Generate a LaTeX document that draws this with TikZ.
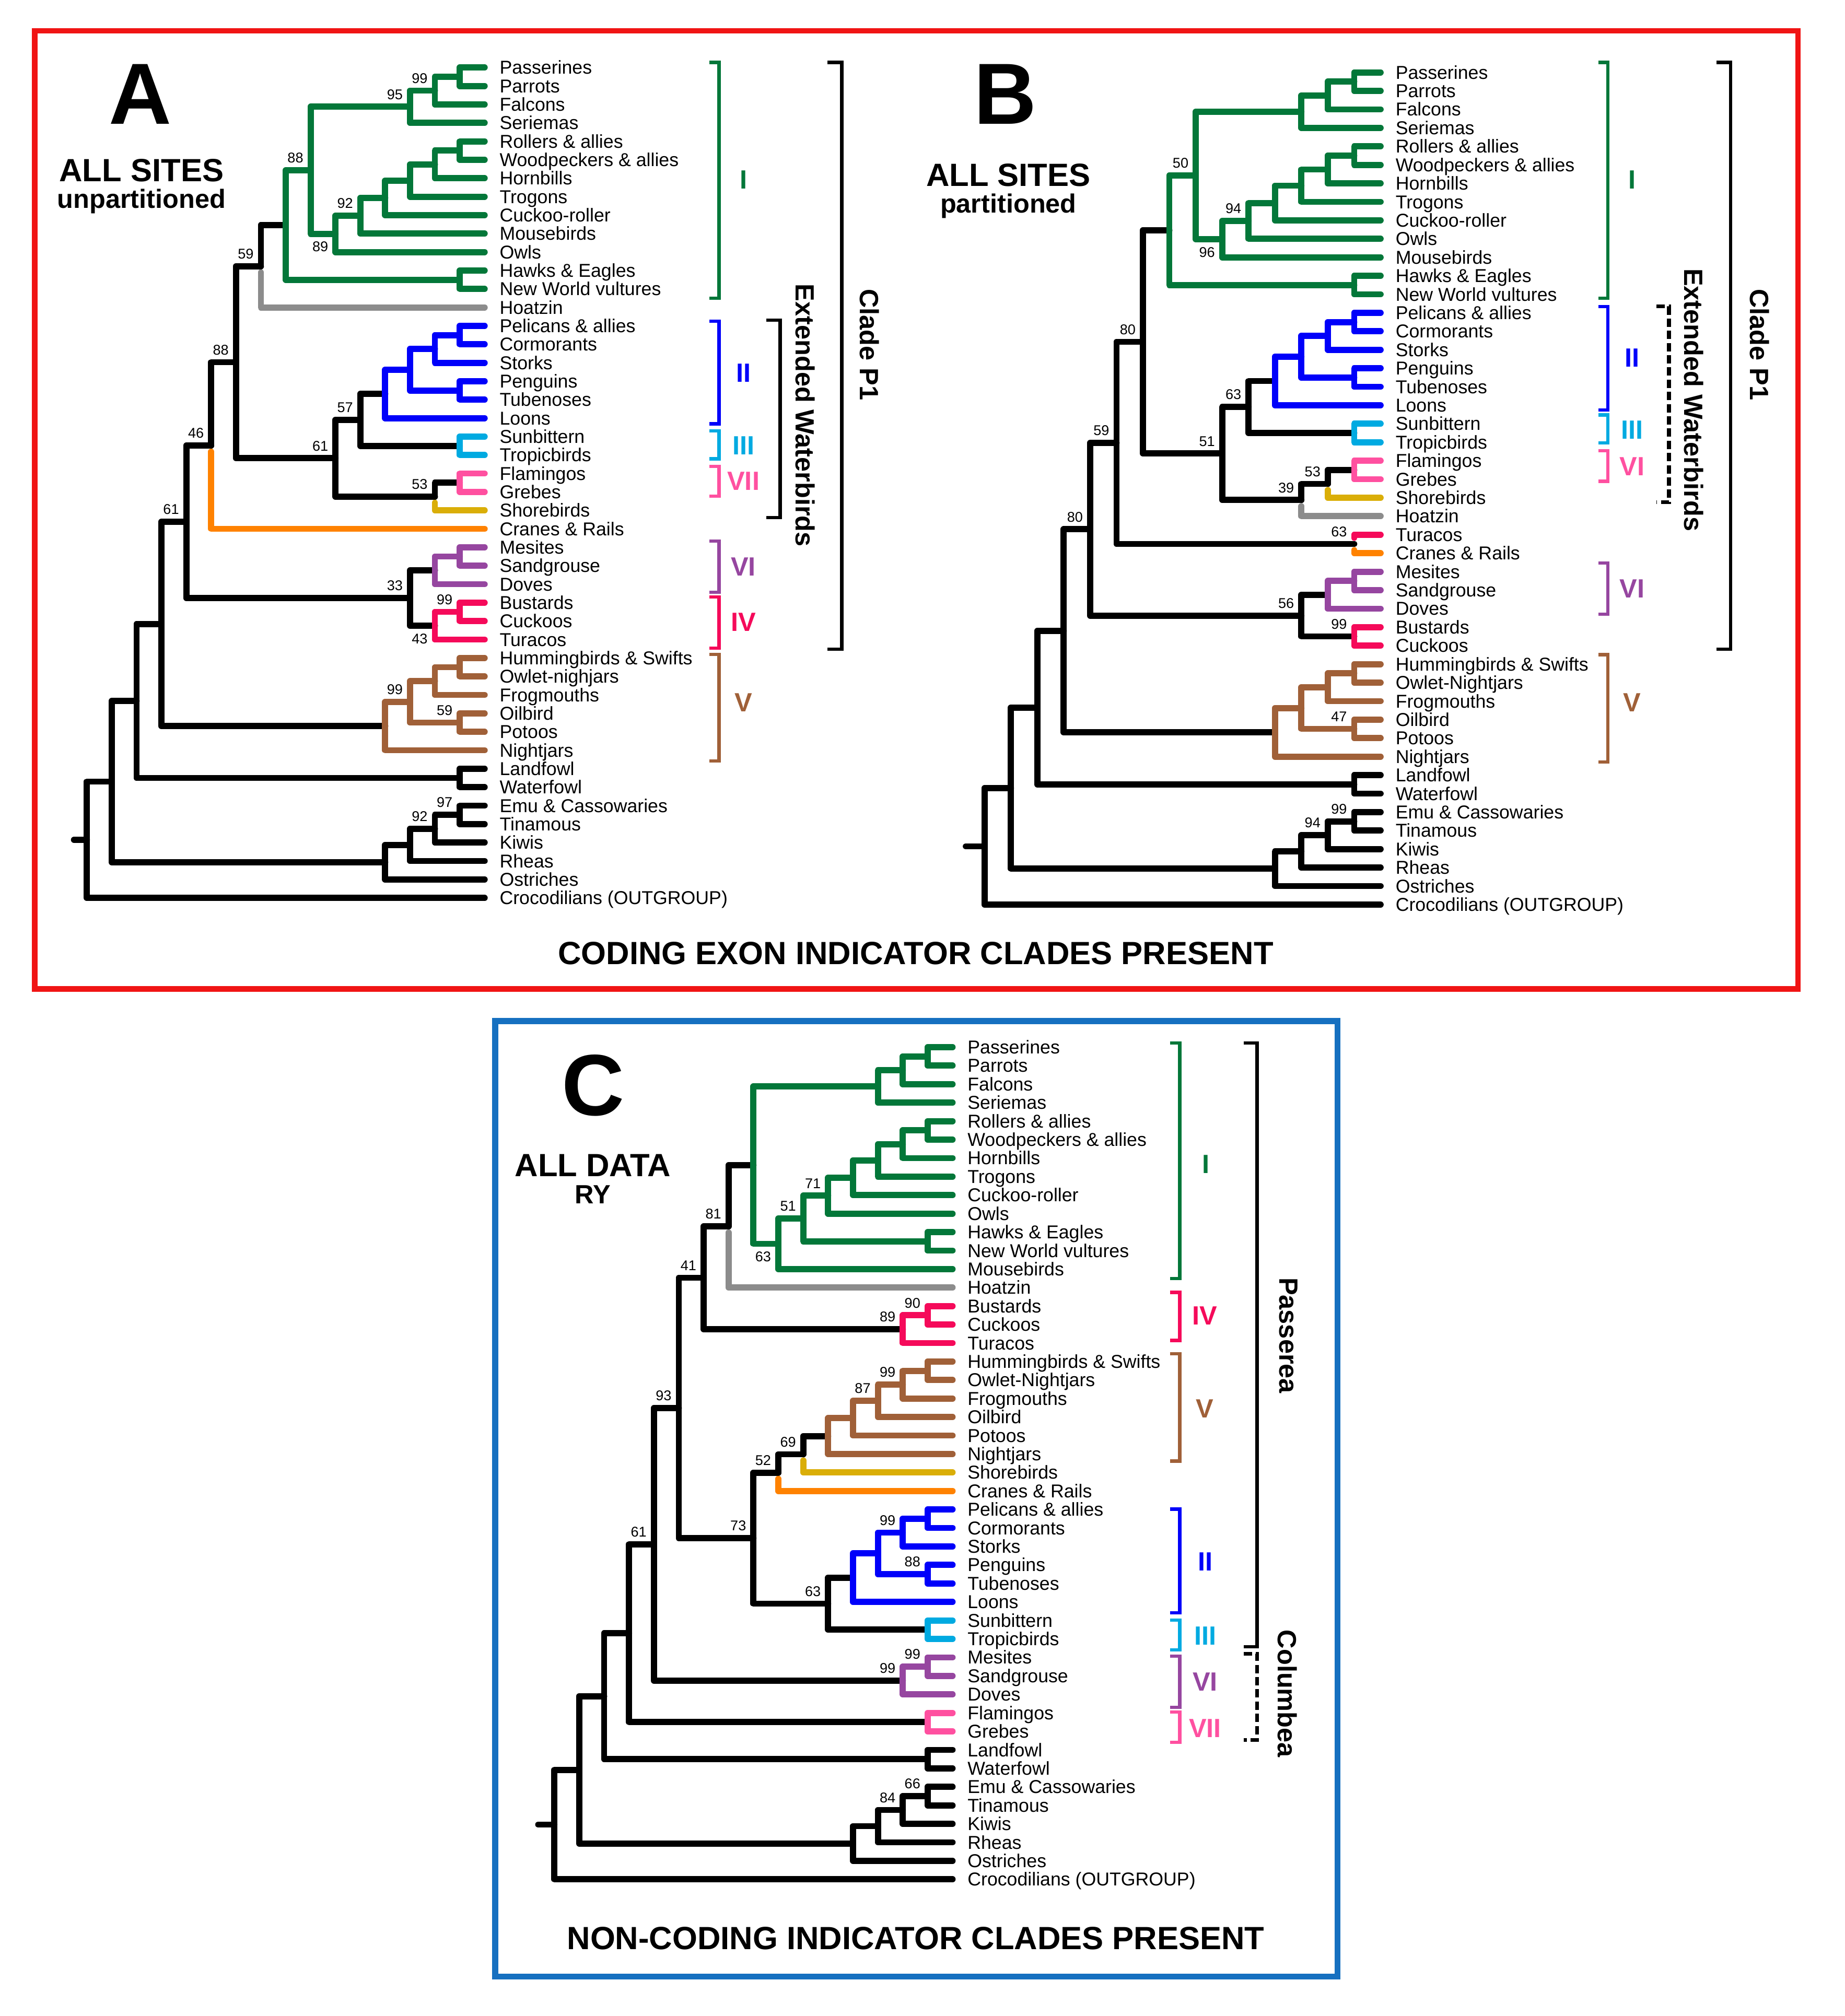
\documentclass[tikz,border=0pt]{standalone}
\usepackage{fontspec}
\setmainfont{Liberation Sans}
\usetikzlibrary{calc}
\definecolor{cI}{RGB}{3,119,57}
\definecolor{cII}{RGB}{0,0,250}
\definecolor{cIII}{RGB}{0,170,225}
\definecolor{cVII}{RGB}{255,80,160}
\definecolor{cVI}{RGB}{150,70,160}
\definecolor{cIV}{RGB}{245,10,90}
\definecolor{cV}{RGB}{160,96,56}
\definecolor{cHo}{RGB}{140,140,140}
\definecolor{cSh}{RGB}{218,174,8}
\definecolor{cCr}{RGB}{255,130,0}
\definecolor{frA}{RGB}{240,20,20}
\definecolor{frC}{RGB}{22,112,192}
\def\TXz{0}\def\TXs{0}
\newcommand\tn[4]{\path let \p1=($(#3)!0.5!(#4)$) in ({(\TXz-\TXs*#2)*1pt},\y1) coordinate (#1);}
\newcommand\br[3]{\draw[treeline,#1] (#2) |- (#3);}
\newcommand\brs[3]{\draw[treeline,#1,shorten <=4.8pt] (#2) |- (#3);}
\newcommand\bsa[2]{\node[bs,anchor=south east] at ([xshift=-5.5pt,yshift=5.5pt]#1) {#2};}
\newcommand\bsb[2]{\node[bs,anchor=north east] at ([xshift=-5.5pt,yshift=-6pt]#1) {#2};}
\newcommand\tips[5]{\foreach \tipname [count=\i from 0] in {#5} {\coordinate (#1\i) at (#2,{#3+#4*\i}); \node[tiplab] (#1L\i) at ([xshift=11.5pt,yshift=-5.1pt]#1\i) {\tipname};}}
\newcommand\clbr[7]{\draw[clade,#1] ({#2-7.5},#3) -- (#2,#3) -- (#2,#4) -- ({#2-7.5},#4);
 \node[romanlab,text=#1] at (#6,#7) {#5};}
\tikzset{
 treeline/.style={line width=4.8pt, line cap=round, line join=round},
 tiplab/.style={inner sep=0pt, anchor=base west, font=\fontsize{14.5}{14.5}\selectfont},
 bs/.style={inner sep=0pt, font=\fontsize{11}{11}\selectfont},
 romanlab/.style={inner sep=0pt, font=\fontsize{20.5}{20.5}\selectfont\bfseries},
 clade/.style={line width=2.6pt, line cap=butt, line join=miter},
 vtext/.style={inner sep=0pt, rotate=-90, font=\fontsize{20.5}{20.5}\selectfont\bfseries},
 bigletter/.style={inner sep=0pt, anchor=base, font=\fontsize{67.5}{67.5}\selectfont\bfseries},
 headA/.style={inner sep=0pt, anchor=base, font=\fontsize{25}{25}\selectfont\bfseries},
 headB/.style={inner sep=0pt, anchor=base, font=\fontsize{20.5}{20.5}\selectfont\bfseries},
}
\begin{document}
\begin{tikzpicture}[x=1pt,y=-1pt]
\fill[white] (0,0) rectangle (1434.1,1567.7);
\useasboundingbox (0,0) rectangle (1434.1,1567.7);
% frames
\draw[frA, line width=4.2pt] (27,24) rectangle (1398,769);
\draw[frC, line width=4.5pt] (385,794) rectangle (1040,1537);
% ================= PANEL A =================
\def\TXz{376.8}\def\TXs{19.33}
\tips{A}{376.8}{52.5}{14.35}{Passerines,Parrots,Falcons,Seriemas,Rollers \& allies,Woodpeckers \& allies,Hornbills,Trogons,Cuckoo-roller,Mousebirds,Owls,Hawks \& Eagles,New World vultures,Hoatzin,Pelicans \& allies,Cormorants,Storks,Penguins,Tubenoses,Loons,Sunbittern,Tropicbirds,Flamingos,Grebes,Shorebirds,Cranes \& Rails,Mesites,Sandgrouse,Doves,Bustards,Cuckoos,Turacos,Hummingbirds \& Swifts,Owlet-nighjars,Frogmouths,Oilbird,Potoos,Nightjars,Landfowl,Waterfowl,Emu \& Cassowaries,Tinamous,Kiwis,Rheas,Ostriches,Crocodilians (OUTGROUP)}
\tn{Ag1}{1}{A0}{A1}\tn{Ag2}{2}{Ag1}{A2}\tn{Ag3}{3}{Ag2}{A3}
\tn{Ag4}{1}{A4}{A5}\tn{Ag5}{2}{Ag4}{A6}\tn{Ag6}{3}{Ag5}{A7}\tn{Ag7}{4}{Ag6}{A8}
\tn{Ag8}{5}{Ag7}{A9}\tn{Ag9}{6}{Ag8}{A10}\tn{Ag10}{7}{Ag3}{Ag9}
\tn{Ag11}{1}{A11}{A12}\tn{Ag12}{8}{Ag10}{Ag11}\tn{An59}{9}{Ag12}{A13}
\tn{Ab1}{1}{A14}{A15}\tn{Ab2}{2}{Ab1}{A16}\tn{Ab3}{1}{A17}{A18}\tn{Ab4}{3}{Ab2}{Ab3}
\tn{Ab5}{4}{Ab4}{A19}\tn{Ac1}{1}{A20}{A21}\tn{An57}{5}{Ab5}{Ac1}
\tn{Ap1}{1}{A22}{A23}\tn{An53}{2}{Ap1}{A24}\tn{An61}{6}{An57}{An53}
\tn{An88}{10}{An59}{An61}\tn{An46}{11}{An88}{A25}
\tn{Av1}{1}{A26}{A27}\tn{Av2}{2}{Av1}{A28}\tn{Ar1}{1}{A29}{A30}\tn{Ar2}{2}{Ar1}{A31}
\tn{An33}{3}{Av2}{Ar2}\tn{An61b}{12}{An46}{An33}
\tn{Aw1}{1}{A32}{A33}\tn{Aw2}{2}{Aw1}{A34}\tn{Aw3}{1}{A35}{A36}\tn{Aw4}{3}{Aw2}{Aw3}
\tn{Aw5}{4}{Aw4}{A37}\tn{An13}{13}{An61b}{Aw5}\tn{Al1}{1}{A38}{A39}\tn{An14}{14}{An13}{Al1}
\tn{Ae1}{1}{A40}{A41}\tn{Ae2}{2}{Ae1}{A42}\tn{Ae3}{3}{Ae2}{A43}\tn{Ae4}{4}{Ae3}{A44}
\tn{An15}{15}{An14}{Ae4}\tn{Aroot}{16}{An15}{A45}
\path (Aroot) ++(-10,0) coordinate (Astub);
\draw[treeline] (Astub) -- (Aroot);
\br{black}{Aroot}{An15}\br{black}{Aroot}{A45}
\br{black}{An15}{An14}\br{black}{An15}{Ae4}
\br{black}{Ae4}{Ae3}\br{black}{Ae4}{A44}\br{black}{Ae3}{Ae2}\br{black}{Ae3}{A43}
\br{black}{Ae2}{Ae1}\br{black}{Ae2}{A42}\br{black}{Ae1}{A40}\br{black}{Ae1}{A41}
\br{black}{An14}{An13}\br{black}{An14}{Al1}\br{black}{Al1}{A38}\br{black}{Al1}{A39}
\br{black}{An13}{An61b}\br{black}{An13}{Aw5}
\br{cV}{Aw5}{Aw4}\br{cV}{Aw5}{A37}\br{cV}{Aw4}{Aw2}\br{cV}{Aw4}{Aw3}
\br{cV}{Aw3}{A35}\br{cV}{Aw3}{A36}\br{cV}{Aw2}{Aw1}\br{cV}{Aw2}{A34}
\br{cV}{Aw1}{A32}\br{cV}{Aw1}{A33}
\br{black}{An61b}{An46}\br{black}{An61b}{An33}
\br{black}{An33}{Av2}\br{black}{An33}{Ar2}
\br{cIV}{Ar2}{Ar1}\br{cIV}{Ar2}{A31}\br{cIV}{Ar1}{A29}\br{cIV}{Ar1}{A30}
\br{cVI}{Av2}{Av1}\br{cVI}{Av2}{A28}\br{cVI}{Av1}{A26}\br{cVI}{Av1}{A27}
\brs{cCr}{An46}{A25}\br{black}{An46}{An88}
\br{black}{An88}{An59}\br{black}{An88}{An61}
\br{black}{An61}{An57}\br{black}{An61}{An53}
\brs{cSh}{An53}{A24}\br{black}{An53}{Ap1}
\br{cVII}{Ap1}{A22}\br{cVII}{Ap1}{A23}
\br{black}{An57}{Ab5}\br{black}{An57}{Ac1}
\br{cIII}{Ac1}{A20}\br{cIII}{Ac1}{A21}
\br{cII}{Ab5}{Ab4}\br{cII}{Ab5}{A19}\br{cII}{Ab4}{Ab2}\br{cII}{Ab4}{Ab3}
\br{cII}{Ab3}{A17}\br{cII}{Ab3}{A18}\br{cII}{Ab2}{Ab1}\br{cII}{Ab2}{A16}
\br{cII}{Ab1}{A14}\br{cII}{Ab1}{A15}
\brs{cHo}{An59}{A13}\br{black}{An59}{Ag12}
\br{cI}{Ag12}{Ag10}\br{cI}{Ag12}{Ag11}\br{cI}{Ag11}{A11}\br{cI}{Ag11}{A12}
\br{cI}{Ag10}{Ag3}\br{cI}{Ag10}{Ag9}\br{cI}{Ag9}{Ag8}\br{cI}{Ag9}{A10}
\br{cI}{Ag8}{Ag7}\br{cI}{Ag8}{A9}\br{cI}{Ag7}{Ag6}\br{cI}{Ag7}{A8}
\br{cI}{Ag6}{Ag5}\br{cI}{Ag6}{A7}\br{cI}{Ag5}{Ag4}\br{cI}{Ag5}{A6}
\br{cI}{Ag4}{A4}\br{cI}{Ag4}{A5}\br{cI}{Ag3}{Ag2}\br{cI}{Ag3}{A3}
\br{cI}{Ag2}{Ag1}\br{cI}{Ag2}{A2}\br{cI}{Ag1}{A0}\br{cI}{Ag1}{A1}
\bsa{Ag2}{99}\bsa{Ag3}{95}\bsa{Ag10}{88}\bsa{Ag8}{92}\bsb{Ag9}{89}\bsa{An59}{59}
\bsa{An88}{88}\bsa{An46}{46}\bsa{An57}{57}\bsa{An61}{61}\bsa{An53}{53}\bsa{An61b}{61}
\bsa{An33}{33}\bsa{Ar1}{99}\bsb{Ar2}{43}\bsa{Aw4}{99}\bsa{Aw3}{59}\bsa{Ae1}{97}\bsa{Ae2}{92}
\node[bigletter] (Alet) at (108.9,96.5) {A};
\node[headA] (Aall) at (110,141.3) {ALL SITES};
\node[headB] (Asub) at (110,162) {unpartitioned};
\clbr{cI}{559}{48.5}{232}{I}{578}{139.7}
\clbr{cII}{559}{249.8}{329.6}{II}{578}{290}
\clbr{cIII}{559}{335}{356.8}{III}{578}{346.5}
\clbr{cVII}{559}{362.7}{385.8}{VII}{578}{374}
\clbr{cVI}{559}{420.8}{460.6}{VI}{578}{440.6}
\clbr{cIV}{559}{464.3}{504}{IV}{578}{483.7}
\clbr{cV}{559}{509}{591.7}{V}{578}{546.4}
\draw[clade] (596,249) -- (606.5,249) -- (606.5,402.5) -- (596,402.5);
\node[vtext] (Aext) at (626,323) {Extended Waterbirds};
\draw[clade] (643.5,48.6) -- (654.5,48.6) -- (654.5,504.8) -- (643.5,504.8);
\node[vtext] (Ap1lab) at (676,268) {Clade P1};
% ================= PANEL B =================
\def\TXz{1073.4}\def\TXs{20.53}
\tips{B}{1073.4}{56.3}{14.38}{Passerines,Parrots,Falcons,Seriemas,Rollers \& allies,Woodpeckers \& allies,Hornbills,Trogons,Cuckoo-roller,Owls,Mousebirds,Hawks \& Eagles,New World vultures,Pelicans \& allies,Cormorants,Storks,Penguins,Tubenoses,Loons,Sunbittern,Tropicbirds,Flamingos,Grebes,Shorebirds,Hoatzin,Turacos,Cranes \& Rails,Mesites,Sandgrouse,Doves,Bustards,Cuckoos,Hummingbirds \& Swifts,Owlet-Nightjars,Frogmouths,Oilbird,Potoos,Nightjars,Landfowl,Waterfowl,Emu \& Cassowaries,Tinamous,Kiwis,Rheas,Ostriches,Crocodilians (OUTGROUP)}
\tn{Bg1}{1}{B0}{B1}\tn{Bg2}{2}{Bg1}{B2}\tn{Bg3}{3}{Bg2}{B3}
\tn{Bg4}{1}{B4}{B5}\tn{Bg5}{2}{Bg4}{B6}\tn{Bg6}{3}{Bg5}{B7}\tn{Bg7}{4}{Bg6}{B8}
\tn{Bg8}{5}{Bg7}{B9}\tn{Bg9}{6}{Bg8}{B10}\tn{Bg10}{7}{Bg3}{Bg9}
\tn{Bg11}{1}{B11}{B12}\tn{Bg12}{8}{Bg10}{Bg11}
\tn{Bb1}{1}{B13}{B14}\tn{Bb2}{2}{Bb1}{B15}\tn{Bb3}{1}{B16}{B17}\tn{Bb4}{3}{Bb2}{Bb3}
\tn{Bb5}{4}{Bb4}{B18}\tn{Bc1}{1}{B19}{B20}\tn{Bn63}{5}{Bb5}{Bc1}
\tn{Bp1}{1}{B21}{B22}\tn{Bn53}{2}{Bp1}{B23}\tn{Bn39}{3}{Bn53}{B24}
\tn{Bn51}{6}{Bn63}{Bn39}\tn{Bn80a}{9}{Bg12}{Bn51}
\tn{Bt1}{1}{B25}{B26}\tn{Bn59}{10}{Bn80a}{Bt1}
\tn{Bv1}{1}{B27}{B28}\tn{Bv2}{2}{Bv1}{B29}\tn{Br1}{1}{B30}{B31}\tn{Bn56}{3}{Bv2}{Br1}
\tn{Bn80b}{11}{Bn59}{Bn56}
\tn{Bw1}{1}{B32}{B33}\tn{Bw2}{2}{Bw1}{B34}\tn{Bw3}{1}{B35}{B36}\tn{Bw4}{3}{Bw2}{Bw3}
\tn{Bw5}{4}{Bw4}{B37}\tn{Bn12}{12}{Bn80b}{Bw5}\tn{Bl1}{1}{B38}{B39}\tn{Bn13}{13}{Bn12}{Bl1}
\tn{Be1}{1}{B40}{B41}\tn{Be2}{2}{Be1}{B42}\tn{Be3}{3}{Be2}{B43}\tn{Be4}{4}{Be3}{B44}
\tn{Bn14}{14}{Bn13}{Be4}\tn{Broot}{15}{Bn14}{B45}
\path (Broot) ++(-14.5,0) coordinate (Bstub);
\draw[treeline] (Bstub) -- (Broot);
\br{black}{Broot}{Bn14}\br{black}{Broot}{B45}
\br{black}{Bn14}{Bn13}\br{black}{Bn14}{Be4}
\br{black}{Be4}{Be3}\br{black}{Be4}{B44}\br{black}{Be3}{Be2}\br{black}{Be3}{B43}
\br{black}{Be2}{Be1}\br{black}{Be2}{B42}\br{black}{Be1}{B40}\br{black}{Be1}{B41}
\br{black}{Bn13}{Bn12}\br{black}{Bn13}{Bl1}\br{black}{Bl1}{B38}\br{black}{Bl1}{B39}
\br{black}{Bn12}{Bn80b}\br{black}{Bn12}{Bw5}
\br{cV}{Bw5}{Bw4}\br{cV}{Bw5}{B37}\br{cV}{Bw4}{Bw2}\br{cV}{Bw4}{Bw3}
\br{cV}{Bw3}{B35}\br{cV}{Bw3}{B36}\br{cV}{Bw2}{Bw1}\br{cV}{Bw2}{B34}
\br{cV}{Bw1}{B32}\br{cV}{Bw1}{B33}
\br{black}{Bn80b}{Bn59}\br{black}{Bn80b}{Bn56}
\br{black}{Bn56}{Bv2}\br{black}{Bn56}{Br1}
\br{cIV}{Br1}{B30}\br{cIV}{Br1}{B31}
\br{cVI}{Bv2}{Bv1}\br{cVI}{Bv2}{B29}\br{cVI}{Bv1}{B27}\br{cVI}{Bv1}{B28}
\br{black}{Bn59}{Bn80a}\br{black}{Bn59}{Bt1}
\brs{cIV}{Bt1}{B25}\brs{cCr}{Bt1}{B26}
\br{black}{Bn80a}{Bg12}\br{black}{Bn80a}{Bn51}
\br{black}{Bn51}{Bn63}\br{black}{Bn51}{Bn39}
\brs{cHo}{Bn39}{B24}\br{black}{Bn39}{Bn53}
\brs{cSh}{Bn53}{B23}\br{black}{Bn53}{Bp1}
\br{cVII}{Bp1}{B21}\br{cVII}{Bp1}{B22}
\br{black}{Bn63}{Bb5}\br{black}{Bn63}{Bc1}
\br{cIII}{Bc1}{B19}\br{cIII}{Bc1}{B20}
\br{cII}{Bb5}{Bb4}\br{cII}{Bb5}{B18}\br{cII}{Bb4}{Bb2}\br{cII}{Bb4}{Bb3}
\br{cII}{Bb3}{B16}\br{cII}{Bb3}{B17}\br{cII}{Bb2}{Bb1}\br{cII}{Bb2}{B15}
\br{cII}{Bb1}{B13}\br{cII}{Bb1}{B14}
\br{cI}{Bg12}{Bg10}\br{cI}{Bg12}{Bg11}\br{cI}{Bg11}{B11}\br{cI}{Bg11}{B12}
\br{cI}{Bg10}{Bg3}\br{cI}{Bg10}{Bg9}\br{cI}{Bg9}{Bg8}\br{cI}{Bg9}{B10}
\br{cI}{Bg8}{Bg7}\br{cI}{Bg8}{B9}\br{cI}{Bg7}{Bg6}\br{cI}{Bg7}{B8}
\br{cI}{Bg6}{Bg5}\br{cI}{Bg6}{B7}\br{cI}{Bg5}{Bg4}\br{cI}{Bg5}{B6}
\br{cI}{Bg4}{B4}\br{cI}{Bg4}{B5}\br{cI}{Bg3}{Bg2}\br{cI}{Bg3}{B3}
\br{cI}{Bg2}{Bg1}\br{cI}{Bg2}{B2}\br{cI}{Bg1}{B0}\br{cI}{Bg1}{B1}
\bsa{Bg10}{50}\bsa{Bg8}{94}\bsb{Bg9}{96}\bsa{Bn80a}{80}\bsa{Bn63}{63}\bsa{Bn51}{51}
\bsa{Bn53}{53}\bsa{Bn39}{39}\bsa{Bt1}{63}\bsa{Bn59}{59}\bsa{Bn80b}{80}\bsa{Bn56}{56}
\bsa{Br1}{99}\bsa{Bw3}{47}\bsa{Be1}{99}\bsa{Be2}{94}
\node[bigletter] (Blet) at (781.8,96.5) {B};
\node[headA] (Ball) at (784,144.6) {ALL SITES};
\node[headB] (Bsub) at (784,165.5) {partitioned};
\clbr{cI}{1250.2}{48.6}{232}{I}{1269}{139.6}
\clbr{cII}{1250.2}{238.3}{318.7}{II}{1269}{278.1}
\clbr{cIII}{1250.2}{322.7}{344.4}{III}{1269}{334.2}
\clbr{cVII}{1250.2}{350.6}{374.2}{VI}{1269}{362.6}
\clbr{cVI}{1250.2}{437.7}{477.6}{VI}{1269}{457.6}
\clbr{cV}{1250.2}{509.1}{592.5}{V}{1269}{546.4}
\draw[line width=3pt, dash pattern=on 6.5pt off 3pt] (1288,238.3) -- (1297.6,238.3) -- (1297.6,390.5) -- (1288,390.5);
\node[vtext] (Bext) at (1317,311) {Extended Waterbirds};
\draw[clade] (1334.5,48.6) -- (1345.6,48.6) -- (1345.6,504.8) -- (1334.5,504.8);
\node[vtext] (Bp1lab) at (1368,268) {Clade P1};
\node[headA] (Atitle) at (712,750) {CODING EXON INDICATOR CLADES PRESENT};
% ================= PANEL C =================
\def\TXz{740.6}\def\TXs{19.35}
\tips{C}{740.6}{814.3}{14.38}{Passerines,Parrots,Falcons,Seriemas,Rollers \& allies,Woodpeckers \& allies,Hornbills,Trogons,Cuckoo-roller,Owls,Hawks \& Eagles,New World vultures,Mousebirds,Hoatzin,Bustards,Cuckoos,Turacos,Hummingbirds \& Swifts,Owlet-Nightjars,Frogmouths,Oilbird,Potoos,Nightjars,Shorebirds,Cranes \& Rails,Pelicans \& allies,Cormorants,Storks,Penguins,Tubenoses,Loons,Sunbittern,Tropicbirds,Mesites,Sandgrouse,Doves,Flamingos,Grebes,Landfowl,Waterfowl,Emu \& Cassowaries,Tinamous,Kiwis,Rheas,Ostriches,Crocodilians (OUTGROUP)}
\tn{Cg1}{1}{C0}{C1}\tn{Cg2}{2}{Cg1}{C2}\tn{Cg3}{3}{Cg2}{C3}
\tn{Cg4}{1}{C4}{C5}\tn{Cg5}{2}{Cg4}{C6}\tn{Cg6}{3}{Cg5}{C7}\tn{Cg7}{4}{Cg6}{C8}
\tn{Cg8}{5}{Cg7}{C9}\tn{Cg11}{1}{C10}{C11}\tn{Cg9}{6}{Cg8}{Cg11}\tn{Cg10}{7}{Cg9}{C12}
\tn{Cg12}{8}{Cg3}{Cg10}\tn{Cn81}{9}{Cg12}{C13}
\tn{Cr1}{1}{C14}{C15}\tn{Cr2}{2}{Cr1}{C16}\tn{Cn41}{10}{Cn81}{Cr2}
\tn{Cw1}{1}{C17}{C18}\tn{Cw2}{2}{Cw1}{C19}\tn{Cw3}{3}{Cw2}{C20}\tn{Cw4}{4}{Cw3}{C21}
\tn{Cw5}{5}{Cw4}{C22}\tn{Cn69}{6}{Cw5}{C23}\tn{Cn52}{7}{Cn69}{C24}
\tn{Cb1}{1}{C25}{C26}\tn{Cb2}{2}{Cb1}{C27}\tn{Cb3}{1}{C28}{C29}\tn{Cb4}{3}{Cb2}{Cb3}
\tn{Cb5}{4}{Cb4}{C30}\tn{Cc1}{1}{C31}{C32}\tn{Cn63}{5}{Cb5}{Cc1}
\tn{Cn73}{8}{Cn52}{Cn63}\tn{Cn93}{11}{Cn41}{Cn73}
\tn{Cv1}{1}{C33}{C34}\tn{Cv2}{2}{Cv1}{C35}\tn{Cn61}{12}{Cn93}{Cv2}
\tn{Cp1}{1}{C36}{C37}\tn{Cn13}{13}{Cn61}{Cp1}\tn{Cl1}{1}{C38}{C39}\tn{Cn14}{14}{Cn13}{Cl1}
\tn{Ce1}{1}{C40}{C41}\tn{Ce2}{2}{Ce1}{C42}\tn{Ce3}{3}{Ce2}{C43}\tn{Ce4}{4}{Ce3}{C44}
\tn{Cn15}{15}{Cn14}{Ce4}\tn{Croot}{16}{Cn15}{C45}
\path (Croot) ++(-12.5,0) coordinate (Cstub);
\draw[treeline] (Cstub) -- (Croot);
\br{black}{Croot}{Cn15}\br{black}{Croot}{C45}
\br{black}{Cn15}{Cn14}\br{black}{Cn15}{Ce4}
\br{black}{Ce4}{Ce3}\br{black}{Ce4}{C44}\br{black}{Ce3}{Ce2}\br{black}{Ce3}{C43}
\br{black}{Ce2}{Ce1}\br{black}{Ce2}{C42}\br{black}{Ce1}{C40}\br{black}{Ce1}{C41}
\br{black}{Cn14}{Cn13}\br{black}{Cn14}{Cl1}\br{black}{Cl1}{C38}\br{black}{Cl1}{C39}
\br{black}{Cn13}{Cn61}\br{black}{Cn13}{Cp1}
\br{cVII}{Cp1}{C36}\br{cVII}{Cp1}{C37}
\br{black}{Cn61}{Cn93}\br{black}{Cn61}{Cv2}
\br{cVI}{Cv2}{Cv1}\br{cVI}{Cv2}{C35}\br{cVI}{Cv1}{C33}\br{cVI}{Cv1}{C34}
\br{black}{Cn93}{Cn41}\br{black}{Cn93}{Cn73}
\br{black}{Cn73}{Cn52}\br{black}{Cn73}{Cn63}
\br{black}{Cn63}{Cb5}\br{black}{Cn63}{Cc1}
\br{cIII}{Cc1}{C31}\br{cIII}{Cc1}{C32}
\br{cII}{Cb5}{Cb4}\br{cII}{Cb5}{C30}\br{cII}{Cb4}{Cb2}\br{cII}{Cb4}{Cb3}
\br{cII}{Cb3}{C28}\br{cII}{Cb3}{C29}\br{cII}{Cb2}{Cb1}\br{cII}{Cb2}{C27}
\br{cII}{Cb1}{C25}\br{cII}{Cb1}{C26}
\brs{cCr}{Cn52}{C24}\br{black}{Cn52}{Cn69}
\brs{cSh}{Cn69}{C23}\br{black}{Cn69}{Cw5}
\br{cV}{Cw5}{Cw4}\br{cV}{Cw5}{C22}\br{cV}{Cw4}{Cw3}\br{cV}{Cw4}{C21}
\br{cV}{Cw3}{Cw2}\br{cV}{Cw3}{C20}\br{cV}{Cw2}{Cw1}\br{cV}{Cw2}{C19}
\br{cV}{Cw1}{C17}\br{cV}{Cw1}{C18}
\br{black}{Cn41}{Cn81}\br{black}{Cn41}{Cr2}
\br{cIV}{Cr2}{Cr1}\br{cIV}{Cr2}{C16}\br{cIV}{Cr1}{C14}\br{cIV}{Cr1}{C15}
\brs{cHo}{Cn81}{C13}\br{black}{Cn81}{Cg12}
\br{cI}{Cg12}{Cg3}\br{cI}{Cg12}{Cg10}\br{cI}{Cg10}{Cg9}\br{cI}{Cg10}{C12}
\br{cI}{Cg9}{Cg8}\br{cI}{Cg9}{Cg11}\br{cI}{Cg11}{C10}\br{cI}{Cg11}{C11}
\br{cI}{Cg8}{Cg7}\br{cI}{Cg8}{C9}\br{cI}{Cg7}{Cg6}\br{cI}{Cg7}{C8}
\br{cI}{Cg6}{Cg5}\br{cI}{Cg6}{C7}\br{cI}{Cg5}{Cg4}\br{cI}{Cg5}{C6}
\br{cI}{Cg4}{C4}\br{cI}{Cg4}{C5}\br{cI}{Cg3}{Cg2}\br{cI}{Cg3}{C3}
\br{cI}{Cg2}{Cg1}\br{cI}{Cg2}{C2}\br{cI}{Cg1}{C0}\br{cI}{Cg1}{C1}
\bsa{Cg8}{71}\bsa{Cg9}{51}\bsb{Cg10}{63}\bsa{Cn81}{81}\bsa{Cn41}{41}\bsa{Cr1}{90}
\bsa{Cr2}{89}\bsa{Cw2}{99}\bsa{Cw3}{87}\bsa{Cn69}{69}\bsa{Cn52}{52}\bsa{Cb2}{99}
\bsa{Cb3}{88}\bsa{Cn63}{63}\bsa{Cn73}{73}\bsa{Cn93}{93}\bsa{Cn61}{61}\bsa{Cv1}{99}
\bsa{Cv2}{99}\bsa{Ce1}{66}\bsa{Ce2}{84}
\node[bigletter] (Clet) at (461.2,867.5) {C};
\node[headA] (Call) at (461,915) {ALL DATA};
\node[headB] (Csub) at (461,936) {RY};
\clbr{cI}{917.2}{811}{994.1}{I}{937.5}{905.2}
\clbr{cIV}{917.2}{1005}{1042.3}{IV}{936.5}{1023}
\clbr{cV}{917.2}{1052.8}{1136.2}{V}{936.5}{1095.6}
\clbr{cII}{917.2}{1173.5}{1254.1}{II}{937}{1214.5}
\clbr{cIII}{917.2}{1259.8}{1283}{III}{937}{1272.2}
\clbr{cVI}{917.2}{1287.8}{1327.6}{VI}{937}{1307.7}
\clbr{cVII}{917.2}{1331.3}{1354.8}{VII}{937}{1343.8}
\draw[clade] (967,811) -- (977.4,811) -- (977.4,1280.5) -- (967,1280.5);
\node[vtext] (Cpas) at (1001.6,1038.5) {Passerea};
\draw[line width=3pt, dash pattern=on 6.5pt off 3pt] (967,1286) -- (977.4,1286) -- (977.4,1353) -- (967,1353);
\node[vtext] (Ccol) at (1001,1317) {Columbea};
\node[headA] (Ctitle) at (712,1516) {NON-CODING INDICATOR CLADES PRESENT};
\end{tikzpicture}
\end{document}
